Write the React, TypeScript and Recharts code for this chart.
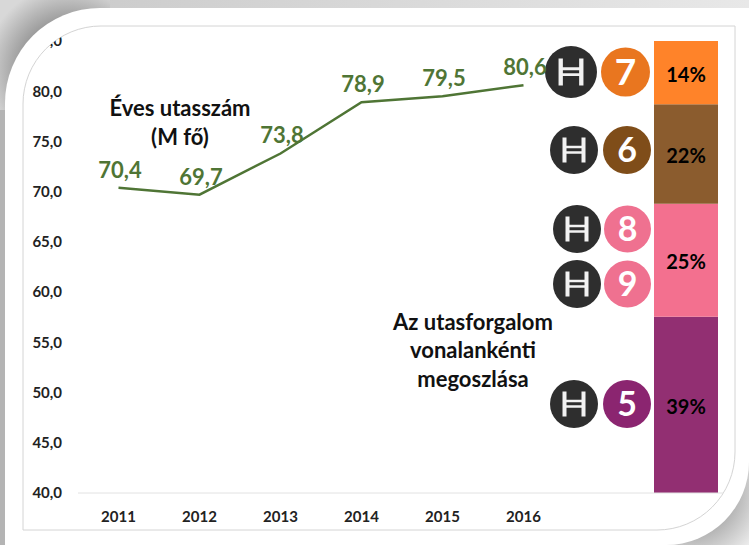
import { Bar, ComposedChart, LabelList, Line, XAxis, YAxis } from "recharts";

const categories = ["2011", "2012", "2013", "2014", "2015", "2016", "", ""];
const passengers = [70.4, 69.7, 73.8, 78.9, 79.5, 80.6, null, null];
const share5 = [null, null, null, null, null, null, null, 39];
const share89 = [null, null, null, null, null, null, null, 25];
const share6 = [null, null, null, null, null, null, null, 22];
const share7 = [null, null, null, null, null, null, null, 14];
const yTicks = [40, 45, 50, 55, 60, 65, 70, 75, 80, 85];

const data = categories.map((year, i) => ({
  year,
  passengers: passengers[i],
  share5: share5[i],
  share89: share89[i],
  share6: share6[i],
  share7: share7[i],
}));

const FONT = "Lato, 'Open Sans', sans-serif";
const FRAME = "M101 26 H735 V452 A78 78 0 0 1 657 530 H23 V104 A78 78 0 0 1 101 26 Z";

const comma = (v: number) => v.toFixed(1).replace(".", ",");
const percent = (v: number) => (v == null ? "" : `${v}%`);

function Metro({ x, y, r }: { x: number; y: number; r: number }) {
  const s = r / 24;
  return (
    <g transform={`translate(${x} ${y}) scale(${s})`}>
      <circle r={24} fill="#2e2e2e" />
      <path d="M-9.5 -12.5 V12.5 M9.5 -12.5 V12.5" stroke="#f2f2f2" strokeWidth={4} fill="none" />
      <path d="M-9.5 -3 H9.5 M-9.5 2.5 H9.5" stroke="#f2f2f2" strokeWidth={2.6} fill="none" />
    </g>
  );
}

function Badge({ x, y, r, fill, label, size }: { x: number; y: number; r: number; fill: string; label: string; size: number }) {
  return (
    <g>
      <circle cx={x} cy={y} r={r} fill={fill} />
      <text x={x} y={y + size * 0.36} textAnchor="middle" fontFamily={FONT} fontWeight={700} fontSize={size} fill="#fff">
        {label}
      </text>
    </g>
  );
}

function Note({ x, y, lines, size }: { x: number; y: number; lines: string[]; size: number }) {
  return (
    <text textAnchor="middle" fontFamily={FONT} fontWeight={700} fontSize={size} fill="#111">
      {lines.map((line, i) => (
        <tspan key={line} x={x} y={y + i * 28.5}>
          {line}
        </tspan>
      ))}
    </text>
  );
}

function Backdrop() {
  return (
    <svg width={749} height={545} style={{ position: "absolute", left: 0, top: 0 }}>
      <defs>
        <radialGradient id="tl" gradientUnits="userSpaceOnUse" cx={70} cy={70} r={85}>
          <stop offset="0.5" stopColor="#8e8e8e" />
          <stop offset="1" stopColor="#d8d8d8" />
        </radialGradient>
        <radialGradient id="br" gradientUnits="userSpaceOnUse" cx={690} cy={490} r={85}>
          <stop offset="0.45" stopColor="#a8a8a8" />
          <stop offset="1" stopColor="#f4f4f4" />
        </radialGradient>
        <linearGradient id="top" x1="0" x2="1" y1="0" y2="0">
          <stop offset="0" stopColor="#c8c8c8" />
          <stop offset="1" stopColor="#e8e8e8" />
        </linearGradient>
      </defs>
      <rect width={749} height={545} fill="#fff" />
      <rect width={749} height={9} fill="url(#top)" />
      <rect width={6} height={545} fill="#b4b4b4" />
      <rect width={110} height={110} fill="url(#tl)" />
      <rect x={640} y={440} width={109} height={105} fill="url(#br)" />
      <path d="M100 8 H749 V462 A83 83 0 0 1 666 545 H5 V103 A95 95 0 0 1 100 8 Z" fill="#fff" />
      <path d={FRAME} fill="none" stroke="#d4d4d4" strokeWidth={1} />
    </svg>
  );
}

export default function App() {
  return (
    <div style={{ position: "absolute", left: 0, top: 0, width: 749, height: 545, overflow: "hidden" }}>
      <Backdrop />
      <div style={{ position: "absolute", left: 0, top: 0, clipPath: `path("${FRAME}")` }}>
        <ComposedChart
          width={749}
          height={545}
          data={data}
          margin={{ top: 41, right: 23, bottom: 22, left: 0 }}
          barCategoryGap={0}
        >
          <XAxis
            dataKey="year"
            stroke="#e2e2e2"
            tickLine={false}
            tickMargin={12}
            interval={0}
            tick={{ fill: "#222", fontSize: 15, fontWeight: 700, fontFamily: FONT }}
          />
          <YAxis
            yAxisId="count"
            width={78}
            domain={[40, 85]}
            ticks={yTicks}
            interval={0}
            axisLine={false}
            tickLine={false}
            tickMargin={10}
            tickFormatter={comma}
            tick={{ fill: "#222", fontSize: 15, fontWeight: 700, fontFamily: FONT }}
          />
          <YAxis yAxisId="share" orientation="right" hide domain={[0, 100]} />
          <Line
            yAxisId="count"
            dataKey="passengers"
            stroke="#4f7535"
            strokeWidth={2.5}
            dot={false}
            connectNulls={false}
            isAnimationActive={false}
          >
            <LabelList
              dataKey="passengers"
              position="top"
              offset={10}
              dx={1.5}
              formatter={(v: number) => (v == null ? "" : comma(v))}
              style={{ fill: "#4f7535", fontSize: 22, fontWeight: 700, fontFamily: FONT }}
            />
          </Line>
          {[
            { key: "share5", fill: "#922f72" },
            { key: "share89", fill: "#f3708f" },
            { key: "share6", fill: "#8b5c2e" },
            { key: "share7", fill: "#ff8329" },
          ].map((s) => (
            <Bar key={s.key} yAxisId="share" dataKey={s.key} stackId="lines" fill={s.fill} barSize={64} isAnimationActive={false}>
              <LabelList
                dataKey={s.key}
                position="center"
                dy={2}
                formatter={percent}
                style={{ fill: "#000", fontSize: 20, fontWeight: 700, fontFamily: FONT }}
              />
            </Bar>
          ))}
          <g>
            <Note x={180} y={116} lines={["Éves utasszám", "(M fő)"]} size={22} />
            <Note x={473} y={329.5} lines={["Az utasforgalom", "vonalankénti", "megoszlása"]} size={22} />
            <Metro x={571} y={72} r={26} />
            <Badge x={625.5} y={72} r={24.5} fill="#e9761f" label="7" size={37} />
            <Metro x={574} y={150} r={24} />
            <Badge x={627} y={150} r={24} fill="#7f4d19" label="6" size={34} />
            <Metro x={577} y={229} r={24} />
            <Badge x={627.5} y={229} r={23.5} fill="#ef7190" label="8" size={34} />
            <Metro x={577} y={284} r={24} />
            <Badge x={627.5} y={284} r={23.5} fill="#ef7190" label="9" size={34} />
            <Metro x={574} y={404} r={24} />
            <Badge x={627} y={404} r={24} fill="#8b2570" label="5" size={34} />
          </g>
        </ComposedChart>
      </div>
    </div>
  );
}
